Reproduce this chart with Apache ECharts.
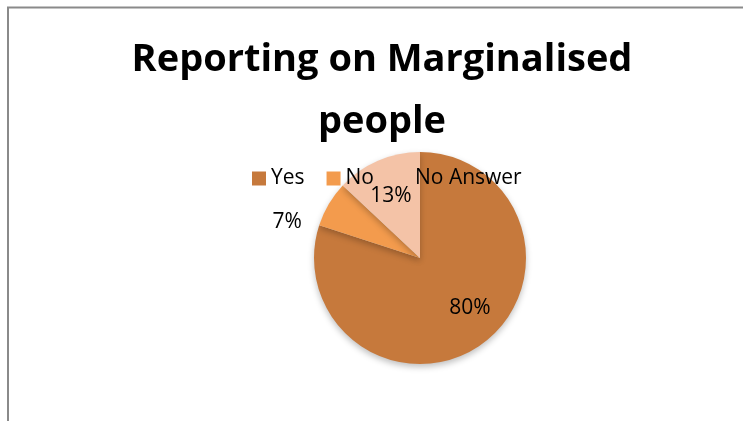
<!DOCTYPE html>
<html>
<head>
<meta charset="utf-8">
<title>Reporting on Marginalised people</title>
<script src="https://cdn.jsdelivr.net/npm/echarts@6/dist/echarts.min.js"></script>
<style>
  html, body { margin: 0; padding: 0; background: #ffffff; }
  #chart { width: 743px; height: 421px; }
</style>
</head>
<body>
<div id="chart"></div>
<script>
// Survey answers, in percent
const categories = ['Yes', 'No', 'No Answer'];
const shares = [80, 7, 13];
const sliceColors = ['#C6793C', '#F39B4D', '#F4C3A7'];
const titleText = 'Reporting on Marginalised\npeople';

const chart = echarts.init(document.getElementById('chart'), null, { renderer: 'canvas' });

const pieData = categories.map((name, i) => ({
  name: name,
  value: shares[i],
  itemStyle: { color: sliceColors[i] }
}));

const center = [420, 258];
const radius = 106;

// small label nudges (dx, dy) for the "best fit" placement
const labelNudge = [[7, -9], [-18, 18], [0, 5]];
const nudgeLabels = function (params) {
  const n = labelNudge[params.dataIndex];
  return { dx: n[0], dy: n[1] };
};

chart.setOption({
  animation: false,
  backgroundColor: '#ffffff',
  title: {
    text: titleText,
    left: 377,
    top: 24,
    textAlign: 'center',
    textStyle: {
      fontFamily: 'Open Sans',
      fontWeight: 'bold',
      fontSize: 38,
      lineHeight: 62,
      color: '#000000'
    }
  },
  legend: {
    data: categories,
    left: 247,
    top: 163,
    z: 10,
    icon: 'rect',
    itemWidth: 14,
    itemHeight: 14,
    itemGap: 22,
    textStyle: {
      fontFamily: 'Open Sans',
      fontSize: 21,
      color: '#000000'
    }
  },
  graphic: [{
    type: 'rect',
    z: -1,
    shape: { x: 8, y: 7.5, width: 760, height: 440 },
    style: { fill: 'none', stroke: '#8a8a8a', lineWidth: 2 }
  }],
  series: [
    {
      // filled slices
      type: 'pie',
      center: center,
      radius: [0, radius],
      startAngle: 90,
      clockwise: true,
      silent: true,
      data: pieData,
      itemStyle: {
        borderWidth: 0,
        shadowBlur: 6,
        shadowOffsetY: 3,
        shadowColor: 'rgba(0,0,0,0.25)'
      },
      label: {
        show: true,
        position: 'outside',
        formatter: p => (p.dataIndex === 1 ? p.value + '%' : ''),
        fontFamily: 'Open Sans',
        fontSize: 21,
        color: '#000000'
      },
      labelLine: { show: false, length: 0, length2: 4 },
      labelLayout: nudgeLabels,
      emphasis: { disabled: true }
    },
    {
      // percentage labels placed inside the larger slices
      type: 'pie',
      center: center,
      radius: [34, radius],
      startAngle: 90,
      clockwise: true,
      silent: true,
      data: pieData.map(d => ({ name: d.name, value: d.value, itemStyle: { color: 'rgba(0,0,0,0)' } })),
      label: {
        show: true,
        position: 'inside',
        formatter: p => (p.dataIndex === 1 ? '' : p.value + '%'),
        fontFamily: 'Open Sans',
        fontSize: 21,
        color: '#000000'
      },
      labelLine: { show: false },
      labelLayout: nudgeLabels,
      emphasis: { disabled: true },
      legendHoverLink: false
    }
  ]
});
</script>
</body>
</html>
